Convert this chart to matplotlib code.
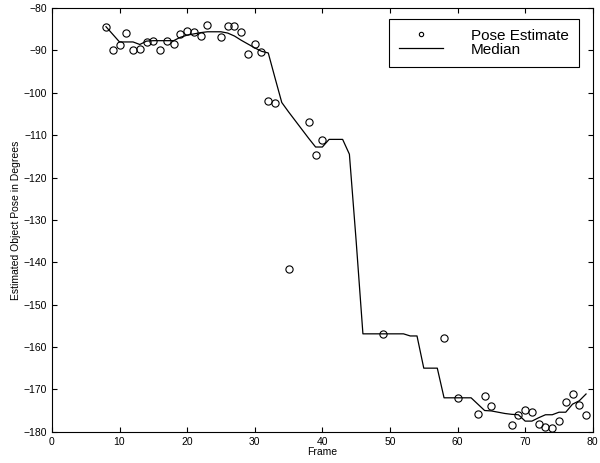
import matplotlib.pyplot as plt
import numpy as np

plt.rcParams['font.family'] = ['Liberation Sans', 'DejaVu Sans']

# pose estimates (frame, degrees)
est_frame = [8, 9, 10, 11, 12, 13, 14, 15, 16, 17, 18, 19, 20, 21, 22, 23, 25, 26, 27, 28,
             29, 30, 31, 32, 33, 35, 38, 39, 40, 49, 58, 60, 63, 64, 65, 68, 69, 70, 71, 72,
             73, 74, 75, 76, 77, 78, 79]
est_pose = [-84.4, -89.8, -88.8, -86.0, -89.8, -89.7, -87.9, -87.7, -89.8, -87.7, -88.6, -86.2,
            -85.5, -85.7, -86.7, -84.1, -86.8, -84.2, -84.2, -85.6, -90.8, -88.4, -90.4, -102.0,
            -102.4, -141.5, -107.0, -114.8, -111.1, -156.9, -157.9, -172.1, -175.9, -171.5, -173.9,
            -178.5, -176.1, -174.9, -175.4, -178.3, -178.9, -179.2, -177.5, -173.1, -171.2, -173.7,
            -176.1]

# running median
med_frame = list(range(8, 80))
med_pose = [-84.4, -86.2, -88.0, -88.0, -88.0, -88.6, -87.8, -87.7, -87.7, -87.7, -87.7, -86.9,
            -86.4, -86.1, -85.8, -85.6, -85.6, -85.6, -85.9, -86.6, -87.6, -88.5, -89.4, -90.2,
            -90.6, -96.5, -102.3, -104.5, -106.6, -108.7, -110.8, -112.8, -112.8, -111.0, -111.0,
            -111.0, -114.5, -135.0, -156.9, -156.9, -156.9, -156.9, -156.9, -156.9, -156.9, -157.4,
            -157.4, -165.0, -165.0, -165.0, -172.0, -172.0, -172.0, -172.0, -172.0, -173.5, -175.0,
            -175.1, -175.4, -175.7, -175.9, -176.0, -177.5, -177.5, -176.7, -176.0, -176.0, -175.4,
            -175.4, -173.5, -172.7, -171.1]

fig = plt.figure(figsize=(6, 4.63), dpi=100)
ax = fig.add_axes([0.0865, 0.0676, 0.9015, 0.915])

ax.plot(est_frame, est_pose, 'o', mfc='none', mec='black', ms=5.2, mew=0.8, label='Pose Estimate')
ax.plot(med_frame, med_pose, '-', color='black', lw=0.9, label='Median')

ax.set_xlim(0, 80)
ax.set_ylim(-180, -80)
ax.set_xticks(np.arange(0, 81, 10))
ax.set_yticks(np.arange(-180, -79, 10))
ax.tick_params(direction='in', top=True, right=True, length=3.5, labelsize=7.5)
ax.set_xlabel('Frame', fontsize=7.5, labelpad=0)
ax.set_ylabel('Estimated Object Pose in Degrees', fontsize=7.5, labelpad=2)
for s in ax.spines.values():
    s.set_linewidth(0.8)

leg = ax.legend(loc='upper right', bbox_to_anchor=(0.974, 0.975), fontsize=11, frameon=True,
                fancybox=False, edgecolor='black', framealpha=1, handlelength=2.9,
                handletextpad=1.8, labelspacing=0.0, borderpad=0.65, markerscale=0.6,
                borderaxespad=0)
leg.get_frame().set_linewidth(0.8)

fig.savefig('out.png')
